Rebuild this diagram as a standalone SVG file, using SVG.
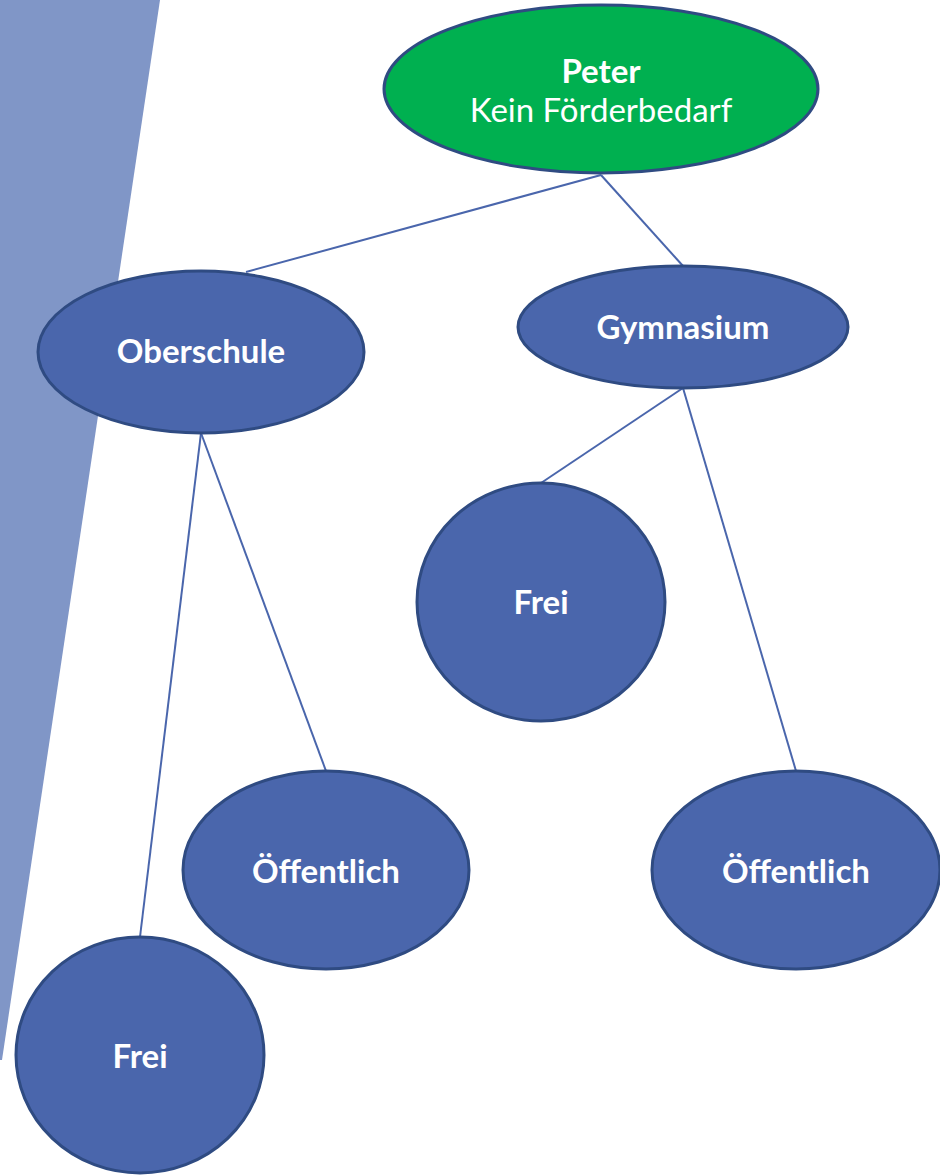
<svg xmlns="http://www.w3.org/2000/svg" width="940" height="1175" viewBox="0 0 940 1175">
<style>
.node{fill:#4A66AC;stroke:#2F4B82;stroke-width:3}
.root{fill:#00B050;stroke:#2F4B82;stroke-width:3}
.lbl{font-family:Lato,"Open Sans","DejaVu Sans",sans-serif;font-weight:bold;font-size:33px;fill:#FFFFFF;text-anchor:middle}
.reg{font-weight:normal}
.conn line{stroke:#4A66AC;stroke-width:2}
</style>
<rect width="940" height="1175" fill="#FFFFFF"/>
<polygon points="0,0 160,0 2,1060 0,1060" fill="#8096C7"/>
<g id="connectors" class="conn">
<line x1="601" y1="175" x2="246" y2="272"/>
<line x1="601" y1="175" x2="683" y2="266"/>
<line x1="201" y1="433" x2="140" y2="937"/>
<line x1="201" y1="433" x2="326" y2="771"/>
<line x1="683" y1="388" x2="541" y2="483"/>
<line x1="683" y1="388" x2="796" y2="771"/>
</g>
<g id="peter">
<ellipse class="root" cx="601" cy="89" rx="217" ry="84"/>
<text class="lbl" x="601" y="83">Peter</text>
<text class="lbl reg" x="601" y="122">Kein Förderbedarf</text>
</g>
<g id="oberschule">
<ellipse class="node" cx="201" cy="352" rx="163" ry="81"/>
<text class="lbl" x="201" y="363">Oberschule</text>
</g>
<g id="gymnasium">
<ellipse class="node" cx="683" cy="327" rx="165" ry="61"/>
<text class="lbl" x="683" y="339">Gymnasium</text>
</g>
<g id="gym-frei">
<ellipse class="node" cx="541" cy="602" rx="124" ry="119"/>
<text class="lbl" x="541" y="614">Frei</text>
</g>
<g id="gym-oeffentlich">
<ellipse class="node" cx="796" cy="870" rx="144" ry="99"/>
<text class="lbl" x="796" y="883">Öffentlich</text>
</g>
<g id="ober-oeffentlich">
<ellipse class="node" cx="326" cy="870" rx="143" ry="99"/>
<text class="lbl" x="326" y="883">Öffentlich</text>
</g>
<g id="ober-frei">
<ellipse class="node" cx="140" cy="1055" rx="124" ry="118"/>
<text class="lbl" x="140" y="1068">Frei</text>
</g>
</svg>
